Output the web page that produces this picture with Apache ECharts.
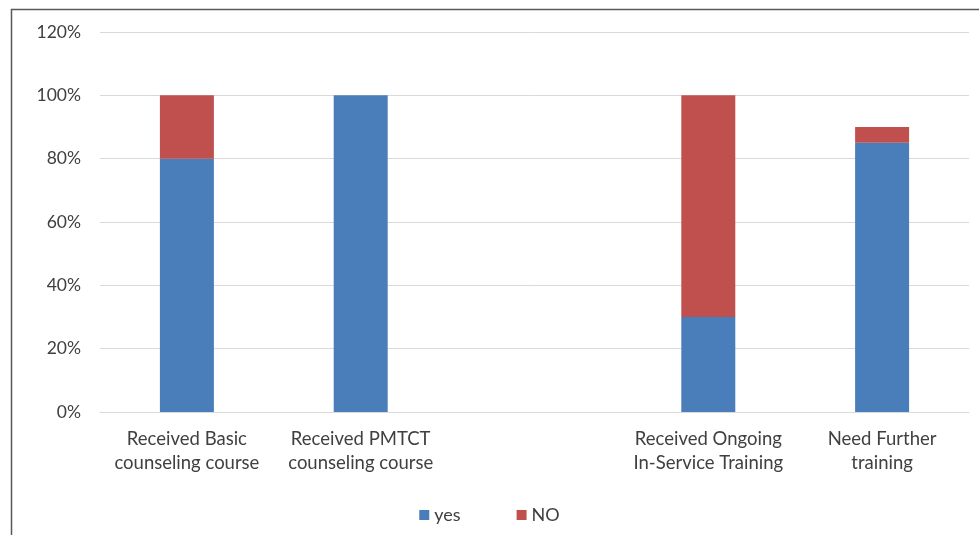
<!DOCTYPE html>
<html>
<head>
<meta charset="utf-8">
<script src="https://cdn.jsdelivr.net/npm/echarts@6/dist/echarts.min.js"></script>
<style>html,body{margin:0;padding:0;background:#fff}#c{width:979px;height:535px}</style>
</head>
<body>
<div id="c"></div>
<script>
var categories = ['Received Basic\ncounseling course', 'Received PMTCT\ncounseling course', '', 'Received Ongoing\nIn-Service Training', 'Need Further\ntraining'];
var yesValues = [80, 100, null, 30, 85];
var noValues = [20, 0, null, 70, 5];
var yTicks = [0, 20, 40, 60, 80, 100, 120];

var chart = echarts.init(document.getElementById('c'));
var font = 'Lato, "Open Sans", sans-serif';
chart.setOption({
  animation: false,
  textStyle: {fontFamily: font},
  graphic: [
    {type: 'line', shape: {x1: 11, y1: 9.5, x2: 979, y2: 9.5}, style: {stroke: '#595959', lineWidth: 1.5}},
    {type: 'line', shape: {x1: 11.5, y1: 9, x2: 11.5, y2: 535}, style: {stroke: '#595959', lineWidth: 1.5}}
  ],
  grid: {left: 100, right: 10, top: 32, bottom: 123},
  legend: {
    bottom: 6, left: 'center', itemWidth: 10, itemHeight: 10, itemGap: 56,
    icon: 'rect',
    textStyle: {fontFamily: font, fontSize: 18, color: '#404040'},
    data: ['yes', 'NO']
  },
  xAxis: {
    type: 'category', data: categories,
    axisLine: {lineStyle: {color: '#d9d9d9', width: 1}},
    axisTick: {show: false},
    axisLabel: {fontFamily: font, fontSize: 18.5, color: '#404040', lineHeight: 24, margin: 15, interval: 0}
  },
  yAxis: {
    type: 'value', min: 0, max: 120, interval: 20,
    axisLine: {show: false}, axisTick: {show: false},
    splitLine: {lineStyle: {color: '#d9d9d9', width: 1}},
    axisLabel: {fontFamily: font, fontSize: 17.5, color: '#404040', margin: 19,
      formatter: function (v) { return yTicks.indexOf(v) >= 0 ? v + '%' : ''; }}
  },
  series: [
    {name: 'yes', type: 'bar', stack: 's', data: yesValues, barWidth: 54, itemStyle: {color: '#4a7ebb'}},
    {name: 'NO', type: 'bar', stack: 's', data: noValues, barWidth: 54, itemStyle: {color: '#c0504d'}}
  ]
});
</script>
</body>
</html>
